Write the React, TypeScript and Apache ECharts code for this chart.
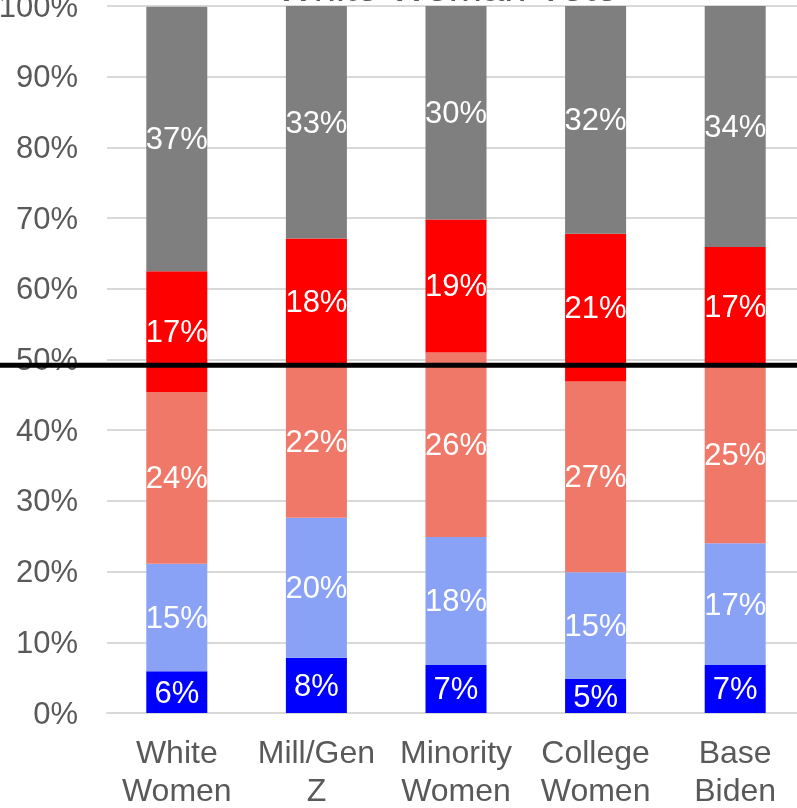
import React, { useEffect, useRef } from "react";
import * as echarts from "echarts";

const titleText = "White Woman Vote";
const categories = ["White\nWomen", "Mill/Gen\nZ", "Minority\nWomen", "College\nWomen", "Base\nBiden"];
const seriesNames = ["Strong Biden", "Lean Biden", "Lean Trump", "Strong Trump", "Undecided"];
const seriesColors = ["#0000ff", "#8aa2f5", "#f07868", "#ff0000", "#7f7f7f"];
const strongBiden = [5.9, 7.8, 6.8, 4.8, 6.8];
const leanBiden = [15.2, 19.8, 18.1, 15.1, 17.2];
const leanTrump = [24.3, 21.6, 26.1, 27.0, 25.2];
const strongTrump = [17.1, 17.9, 18.8, 20.9, 16.7];
const undecided = [37.4, 32.9, 30.2, 32.2, 34.1];
const referenceLine = 49.2;

const FONT = "Liberation Sans, Arial, sans-serif";

export default function App() {
  const ref = useRef<HTMLDivElement>(null);
  useEffect(() => {
    if (!ref.current) return;
    const chart = echarts.init(ref.current, null, { renderer: "svg" });
    const allData = [strongBiden, leanBiden, leanTrump, strongTrump, undecided];
    chart.setOption({
      animation: false,
      textStyle: { fontFamily: FONT },
      grid: { left: 107, right: -8, top: 6, bottom: 95, containLabel: false, outerBoundsMode: "none" },
      xAxis: {
        type: "category",
        data: categories,
        axisLine: { show: true, lineStyle: { color: "#d9d9d9", width: 2 } },
        axisTick: { show: false },
        axisLabel: { color: "#595959", fontSize: 32, lineHeight: 38, margin: 20, fontFamily: FONT, interval: 0 },
      },
      yAxis: {
        type: "value",
        min: 0,
        max: 100,
        interval: 10,
        axisLine: { show: false },
        axisTick: { show: false },
        axisLabel: { color: "#595959", fontSize: 31, margin: 29, formatter: "{value}%", fontFamily: FONT },
        splitLine: { lineStyle: { color: "#d9d9d9", width: 2 } },
      },
      series: allData.map((d, i) => ({
        name: seriesNames[i],
        type: "bar",
        stack: "total",
        data: d,
        barWidth: 61,
        itemStyle: { color: seriesColors[i] },
        label: {
          show: true,
          position: "inside",
          color: "#ffffff",
          fontSize: 31,
          fontFamily: FONT,
          formatter: (p: any) => Math.round(p.value) + "%",
        },
      })),
    });
    const yPix = chart.convertToPixel({ yAxisIndex: 0 }, referenceLine) as number;
    chart.setOption({
      graphic: [
        {
          type: "line",
          z: 100,
          shape: { x1: 0, y1: yPix, x2: 797, y2: yPix },
          style: { stroke: "#000000", lineWidth: 5 },
        },
        {
          type: "text",
          z: 100,
          x: 276,
          y: 7,
          style: {
            text: titleText,
            fill: "#595959",
            fontSize: 40,
            fontFamily: FONT,
            align: "left",
            verticalAlign: "bottom",
          },
        },
      ],
    });
    return () => chart.dispose();
  }, []);
  return <div ref={ref} style={{ width: 797, height: 808, position: "fixed", left: 0, top: 0 }} />;
}
